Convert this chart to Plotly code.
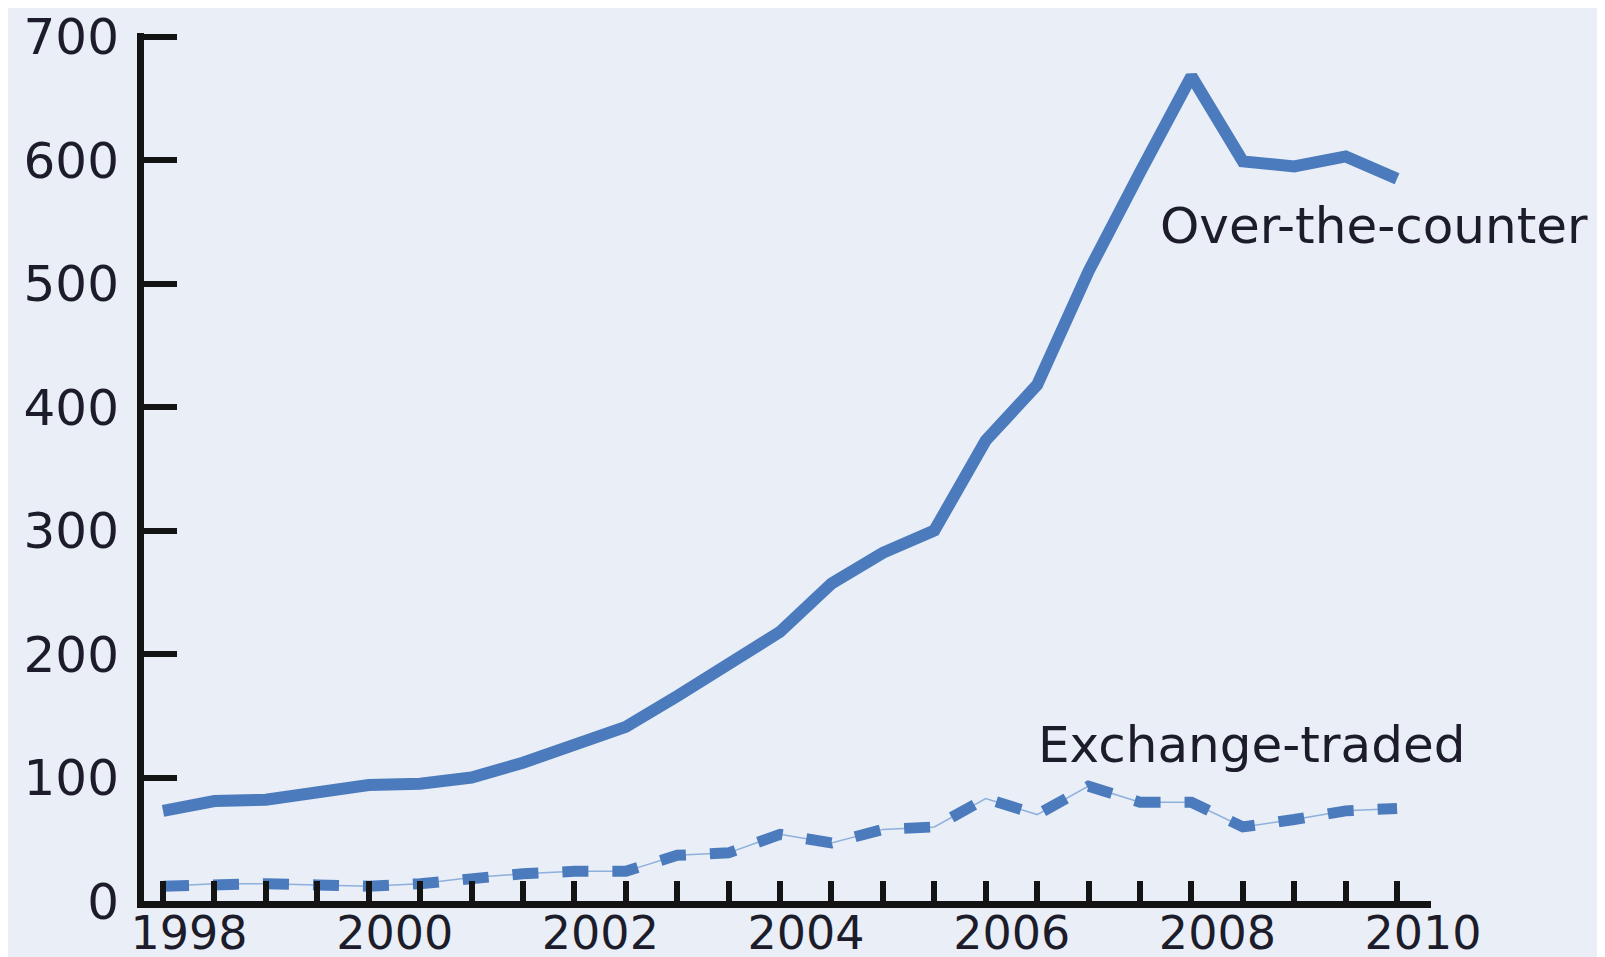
import plotly.graph_objects as go

periods = ["Jun 1998", "Dec 1998", "Jun 1999", "Dec 1999", "Jun 2000", "Dec 2000",
           "Jun 2001", "Dec 2001", "Jun 2002", "Dec 2002", "Jun 2003", "Dec 2003",
           "Jun 2004", "Dec 2004", "Jun 2005", "Dec 2005", "Jun 2006", "Dec 2006",
           "Jun 2007", "Dec 2007", "Jun 2008", "Dec 2008", "Jun 2009", "Dec 2009",
           "Jun 2010"]
otc = [73, 81, 82, 89, 94, 95, 100, 112, 127, 141, 166, 193, 218, 257, 282, 300,
       373, 418, 510, 590, 668, 599, 595, 603, 585]
exchange = [12, 14, 14, 13, 12, 14, 19, 22, 24, 24, 37, 39, 54, 47, 58, 60,
            83, 70, 93, 80, 80, 60, 66, 73, 75]
year_labels = {"Jun 1998": "1998", "Jun 2000": "2000", "Jun 2002": "2002",
               "Jun 2004": "2004", "Jun 2006": "2006", "Jun 2008": "2008",
               "Jun 2010": "2010"}
y_ticks = [0, 100, 200, 300, 400, 500, 600, 700]

blue = "#4b7bbd"
bg = "#e9eef7"
ink = "#1c1c2a"
font = "DejaVu Sans"

fig = go.Figure()
fig.add_trace(go.Scatter(x=periods, y=otc, mode="lines",
                         line=dict(color=blue, width=12), showlegend=False))
fig.add_trace(go.Scatter(x=periods, y=exchange, mode="lines",
                         line=dict(color="#8fb0dc", width=1.5), showlegend=False))
fig.add_trace(go.Scatter(x=periods, y=exchange, mode="lines",
                         line=dict(color=blue, width=11, dash="26px,24px"),
                         showlegend=False))

fig.add_annotation(x="Dec 2008", y=600, text="Over-the-counter", showarrow=False,
                   xanchor="center", yanchor="middle", xshift=131, yshift=-66,
                   font=dict(family=font, size=50, color=ink))
fig.add_annotation(x="Dec 2007", y=100, text="Exchange-traded", showarrow=False,
                   xanchor="center", yanchor="middle", xshift=112, yshift=33,
                   font=dict(family=font, size=50, color=ink))

fig.update_layout(
    width=1605, height=957,
    margin=dict(l=136, r=182, t=25, b=64),
    paper_bgcolor=bg, plot_bgcolor=bg,
    font=dict(family=font, color=ink, size=50),
)
fig.update_xaxes(
    type="category", categoryorder="array", categoryarray=periods,
    range=[-0.37, 24.66], automargin=False,
    tickvals=periods, ticktext=[year_labels.get(p, "") for p in periods],
    ticks="inside", ticklen=20, tickwidth=6, tickcolor="#141414",
    showline=True, linecolor="#141414", linewidth=7,
    showgrid=False, zeroline=False, ticklabelshift=26, ticklabelstandoff=-14,
    tickfont=dict(family=font, size=46, color=ink),
)
fig.update_yaxes(
    range=[0, 703], tickvals=y_ticks, automargin=False,
    ticks="inside", ticklen=33, tickwidth=6, tickcolor="#141414",
    showline=True, linecolor="#141414", linewidth=7,
    showgrid=False, zeroline=False, ticklabelstandoff=8,
    tickfont=dict(family=font, size=50, color=ink),
)

fig.write_html("out.html")
